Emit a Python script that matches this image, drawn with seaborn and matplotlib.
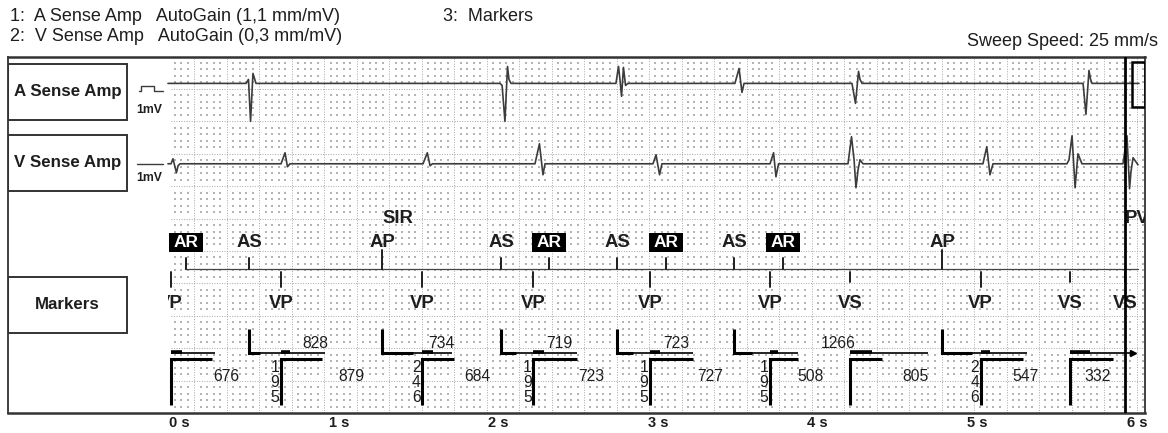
import numpy as np
import pandas as pd
import matplotlib
matplotlib.use("Agg")
import matplotlib.pyplot as plt
import seaborn as sns
from matplotlib.patches import Rectangle
from matplotlib.transforms import Bbox, TransformedBbox

# ------------------------------------------------------------------ data
time_ticks = [0, 1, 2, 3, 4, 5, 6]
time_labels = ["0 s", "1 s", "2 s", "3 s", "4 s", "5 s", "6 s"]

# A Sense Amp trace (time in s, deflection in mm from baseline)
a_sense_t = [-0.069, 0.420, 0.435, 0.448, 0.463, 0.482,
             2.010, 2.023, 2.041, 2.057, 2.066, 2.079,
             2.736, 2.752, 2.761, 2.771, 2.783, 2.796, 2.811,
             3.481, 3.507, 3.525, 3.538,
             4.214, 4.236, 4.255, 4.264, 4.277,
             5.661, 5.679, 5.698, 5.708, 5.717,
             6.011]
a_sense_mm = [0, 0, 0.62, -5.86, 1.54, 0,
              0, -0.31, -5.86, 2.62, 0.62, 0,
              0, 2.62, 0.62, -2.00, 2.47, -0.31, 0,
              0, 2.31, -1.39, 0,
              0, -3.09, 1.85, 0.62, 0,
              0, -4.78, 2.01, 0.62, 0,
              0]

# V Sense Amp trace
v_sense_t = [-0.069, -0.050, -0.038, -0.016, -0.006, 0.006,
             0.639, 0.664, 0.679, 0.695,
             1.528, 1.555, 1.572, 1.587,
             2.229, 2.257, 2.279, 2.292,
             2.968, 2.987, 3.009, 3.024,
             3.701, 3.723, 3.738, 3.754,
             4.189, 4.211, 4.227, 4.239, 4.252, 4.264, 4.283,
             5.034, 5.058, 5.078, 5.097,
             5.560, 5.573, 5.592, 5.611, 5.629, 5.654,
             5.911, 5.936, 5.952, 5.961, 5.974, 6.005]
v_sense_mm = [0, 0, 0.77, -1.39, -0.31, 0,
              0, 1.70, -0.46, 0,
              0, 1.70, -0.31, 0,
              0, 3.09, -1.70, 0,
              0, 1.39, -1.70, 0,
              0, 1.70, -2.01, 0,
              0, 4.17, 0.62, -3.70, -0.93, 0.62, 0,
              0, 2.62, -1.70, 0,
              0, 0.62, 4.32, -3.70, 1.54, 0,
              0, 4.32, -3.86, -1.23, 0.93, -0.15]

# marker channel
atrial_times = [0.044, 0.438, 1.271, 2.016, 2.317, 2.745, 3.049, 3.478, 3.782, 4.780]
atrial_codes = ["AR", "AS", "AP", "AS", "AR", "AS", "AR", "AS", "AR", "AP"]
vent_times = [-0.052, 0.639, 1.523, 2.219, 2.949, 3.701, 4.202, 5.020, 5.579, 5.924]
vent_codes = ["VP", "VP", "VP", "VP", "VP", "VP", "VS", "VP", "VS", "VS"]
note_texts = ["SIR", "PVC"]
note_times = [1.271, 5.924]

# intervals (ms)
aa_intervals = [828, 734, 719, 723, 1266]
vv_intervals = [676, 879, 684, 723, 727, 508, 805, 547, 332]
av_delays = ["", "195", "246", "195", "195", "195", "", "246", "", ""]

# refractory / blanking bars (s)
tarp_start = [-0.052, 0.438, 1.271, 2.016, 2.745, 3.478, 4.202, 4.780, 5.579]
tarp_end = [0.225, 0.914, 1.709, 2.492, 3.219, 3.876, 4.690, 5.310, 5.974]
a_blank_end = [0.507, 1.465, 2.110, 2.843, 3.585, 4.966]
v_blank_end = [0.017, 0.695, 1.591, 2.286, 3.012, 3.751, 4.339, 5.078, 5.704, np.nan]
vrp_end = [0.205, 0.894, 1.722, 2.490, 3.219, 3.876, 4.400, 5.285, 5.849, np.nan]

# ------------------------------------------------------------------ style
sns.set_theme(style="white")
plt.rcParams["font.family"] = ["Liberation Sans", "DejaVu Sans"]

INK = "#1e1e1e"
TRACE = "#3c3c3c"
FRAME = "#333333"

fig = plt.figure(figsize=(11.68, 4.33), dpi=100)
ax = fig.add_axes([8 / 1168, 20 / 433, 1137 / 1168, 356.5 / 433])
ax.set_xlim(-1.0708, 6.0488)
ax.set_ylim(0, 55)
ax.set_yticks([])
for side, sp in ax.spines.items():
    sp.set_color(FRAME)
    sp.set_linewidth(1.8 if side in ("top", "bottom") else 1.3)
    sp.set_visible(True)

# ------------------------------------------------------------------ grid
G0, G1 = -0.050, 6.036
step_major = 0.20351
major_x = np.arange(0.0939, G1, step_major)
ax.vlines(major_x, 0, 55, colors="#a6a6a6", linestyles=(0, (1, 1.6)), lw=0.7, zorder=0)
ax.hlines(np.arange(5, 55, 5), G0, G1, colors="#a6a6a6", linestyles=(0, (1, 1.6)), lw=0.7, zorder=0)
j = np.arange(0, 150)
minor_x = (-0.0282 + 0.040701 * j)[(j % 5) != 3]
minor_y = np.array([m for m in range(1, 55) if m % 5])
XX, YY = np.meshgrid(minor_x, minor_y)
ax.scatter(XX.ravel(), YY.ravel(), s=0.55, marker="s", c="#b4b4b4", linewidths=0, zorder=0)

# ------------------------------------------------------------------ label boxes
box_x0, box_x1 = -1.0689, -0.3281
for (y0, y1), name in zip([(45.22, 53.86), (34.31, 42.90), (12.30, 21.03)],
                          ["A Sense Amp", "V Sense Amp", "Markers"]):
    ax.add_patch(Rectangle((box_x0, y0), box_x1 - box_x0, y1 - y0, fill=False,
                           ec=FRAME, lw=1.4, zorder=3))
    ax.text((box_x0 + box_x1) / 2, (y0 + y1) / 2, name, ha="center", va="center",
            fontsize=12.2, fontweight="bold", color=INK)

# ------------------------------------------------------------------ traces
A_BASE, V_BASE = 50.85, 38.45
dfa = pd.DataFrame({"t": a_sense_t, "y": A_BASE + np.array(a_sense_mm)})
dfv = pd.DataFrame({"t": v_sense_t, "y": V_BASE + np.array(v_sense_mm)})
sns.lineplot(data=dfa, x="t", y="y", sort=False, estimator=None, color=TRACE, lw=1.2, ax=ax)
sns.lineplot(data=dfv, x="t", y="y", sort=False, estimator=None, color=TRACE, lw=1.2, ax=ax)
ax.set_xlabel("")
ax.set_ylabel("")

# calibration marks
ax.plot([-0.2536, -0.2379, -0.2379, -0.1565, -0.1565, -0.1002],
        [49.61, 49.61, 50.46, 50.46, 49.61, 49.61], color=TRACE, lw=1.0)
ax.plot([-0.2630, -0.1002], [V_BASE, V_BASE], color=TRACE, lw=1.0)
for yy in (46.68, 36.27):
    ax.text(-0.1847, yy, "1mV", ha="center", va="center", fontsize=8.8,
            fontweight="bold", color=INK)

# cursor + right box
ax.plot([vent_times[-1], vent_times[-1]], [0, 55], color="black", lw=2.0, zorder=5)
ax.add_patch(Rectangle((5.9656, 47.18), 6.0488 - 5.9656, 54.21 - 47.18, fill=False,
                       ec="black", lw=1.8, zorder=5))

# ------------------------------------------------------------------ marker channel
MK_Y = 22.18
ax.plot([0.038, 6.005], [MK_Y, MK_Y], color="#444444", lw=0.9)
for t, code in zip(atrial_times, atrial_codes):
    top = 25.15 if code == "AP" else 23.87
    ax.plot([t, t], [MK_Y, top], color=INK, lw=1.4)
    if code == "AR":
        ax.add_patch(Rectangle((t - 0.1065, 24.85), 0.213, 2.93, fc="black", ec="none", zorder=4))
        ax.text(t, 26.31, code, ha="center", va="center", fontsize=12.5,
                fontweight="bold", color="white", zorder=5)
    else:
        ax.text(t, 26.31, code, ha="center", va="center", fontsize=13.3,
                fontweight="bold", color=INK)

clip = TransformedBbox(Bbox([[-0.069, 0], [6.0488, 55]]), ax.transData)
for t, code in zip(vent_times, vent_codes):
    bottom = 20.26 if code == "VS" else 19.40
    ax.plot([t, t], [21.81, bottom], color=INK, lw=1.4)
    txt = ax.text(t, 16.82, code, ha="center", va="center", fontsize=13.3,
                  fontweight="bold", color=INK, clip_on=True)
    txt.set_clip_box(clip)

for s, t in zip(note_texts, note_times):
    ax.text(t, 30.0, s, ha="left", va="center", fontsize=13.3, fontweight="bold",
            color=INK, clip_on=True)

# ------------------------------------------------------------------ interval bars
AV_Y = 9.18
for s, e in zip(tarp_start, tarp_end):
    ax.plot([s, e], [AV_Y, AV_Y], color="black", lw=1.2, solid_capstyle="butt")
ax.plot([tarp_end[-1]], [AV_Y], marker=">", ms=4, color="black")

a_main = [t for t, c in zip(atrial_times, atrial_codes) if c != "AR"]
for t, e in zip(a_main, a_blank_end):
    ax.plot([t, t, e], [12.96, AV_Y, AV_Y], color="black", lw=2.2,
            solid_capstyle="butt", solid_joinstyle="miter")
for t, e in zip(vent_times, v_blank_end):
    if not np.isnan(e):
        ax.plot([t, e], [AV_Y + 0.18, AV_Y + 0.18], color="black", lw=2.6,
                solid_capstyle="butt")
for t, e in zip(vent_times, vrp_end):
    if not np.isnan(e):
        ax.plot([t, t, e], [1.23, 8.26, 8.26], color="black", lw=2.2,
                solid_capstyle="butt", solid_joinstyle="miter")

for i, val in enumerate(aa_intervals):
    mid = (a_main[i] + a_main[i + 1]) / 2
    ax.text(mid, 10.65, str(val), ha="center", va="center", fontsize=11.3, color=INK)
for i, val in enumerate(vv_intervals):
    mid = (vent_times[i] + vent_times[i + 1]) / 2
    ax.text(mid, 5.63, str(val), ha="center", va="center", fontsize=11.3, color=INK)
for t, d in zip(vent_times, av_delays):
    if d:
        ax.text(t - 0.0376, 4.63, "\n".join(d), ha="center", va="center",
                fontsize=11.3, linespacing=1.0, color=INK)

# ------------------------------------------------------------------ axis
ax.set_xticks(time_ticks)
ax.set_xticklabels(time_labels, fontsize=10.5, fontweight="bold", color=INK)
ax.tick_params(axis="x", length=0, pad=2.5)

# ------------------------------------------------------------------ header
fig.text(10 / 1168, 1 - 16.5 / 433, "1:  A Sense Amp   AutoGain (1,1 mm/mV)",
         fontsize=13, va="center", ha="left", color=INK)
fig.text(10 / 1168, 1 - 36.5 / 433, "2:  V Sense Amp   AutoGain (0,3 mm/mV)",
         fontsize=13, va="center", ha="left", color=INK)
fig.text(443 / 1168, 1 - 16.5 / 433, "3:  Markers",
         fontsize=13, va="center", ha="left", color=INK)
fig.text(1158 / 1168, 1 - 41 / 433, "Sweep Speed: 25 mm/s",
         fontsize=13, va="center", ha="right", color=INK)

fig.savefig("out.png", dpi=100)
